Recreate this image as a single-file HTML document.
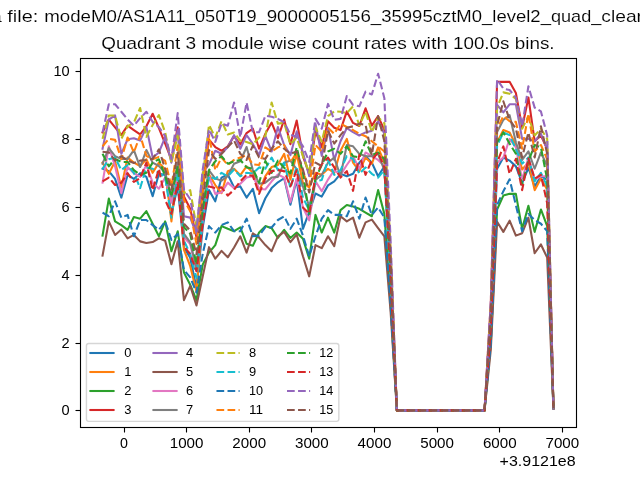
<!DOCTYPE html>
<html lang="en"><head><meta charset="utf-8"><title>Quadrant 3 module wise count rates</title>
<style>html,body{margin:0;padding:0;background:#fff}body{width:640px;height:480px;overflow:hidden}svg{display:block}text{font-family:"Liberation Sans",sans-serif}</style>
</head><body>
<svg style="will-change:transform" width="640" height="480" viewBox="0 0 640 480">
<rect x="0" y="0" width="640" height="480" fill="#fff"/>
<g fill="none" stroke-width="2.0833" stroke-linejoin="round">
<polyline stroke="#1f77b4" stroke-linecap="square" points="102.55,168.75 108.81,171.12 115.07,178.93 121.33,197.60 127.60,174.86 133.86,178.93 140.12,173.16 146.38,176.89 152.65,196.24 158.91,173.84 165.17,174.86 171.43,213.55 177.70,186.40 183.96,247.49 190.22,257.67 196.48,288.22 202.75,227.12 209.01,190.13 215.27,201.33 221.53,177.57 227.80,174.52 234.06,187.41 240.32,186.40 246.58,197.60 252.85,188.77 259.11,213.21 265.37,198.27 271.64,188.09 277.90,182.32 284.16,178.25 290.42,204.72 296.69,179.61 302.95,228.82 309.21,211.85 315.47,193.52 321.74,196.58 328.00,185.38 334.26,181.31 340.52,173.84 346.79,176.21 353.05,173.84 359.31,162.64 365.57,155.85 371.84,162.64 378.10,176.21 384.36,166.37 390.62,278.03 396.89,410.40 403.15,410.40 409.41,410.40 415.68,410.40 421.94,410.40 428.20,410.40 434.46,410.40 440.73,410.40 446.99,410.40 453.25,410.40 459.51,410.40 465.78,410.40 472.04,410.40 478.30,410.40 484.56,410.40 490.83,328.94 497.09,168.75 503.35,157.55 509.61,160.60 515.88,166.37 522.14,183.00 528.40,167.73 534.66,186.40 540.93,176.21 547.19,179.61 553.45,409.04"/>
<polyline stroke="#ff7f0e" stroke-linecap="square" points="102.55,162.64 108.81,173.84 115.07,161.28 121.33,187.41 127.60,157.55 133.86,162.64 140.12,166.03 146.38,159.24 152.65,172.82 158.91,162.64 165.17,169.43 171.43,221.35 177.70,166.03 183.96,249.86 190.22,266.15 196.48,291.61 202.75,213.55 209.01,174.52 215.27,185.04 221.53,193.18 227.80,171.12 234.06,168.75 240.32,175.20 246.58,166.37 252.85,172.82 259.11,191.15 265.37,176.21 271.64,167.05 277.90,165.01 284.16,153.81 290.42,179.61 296.69,153.81 302.95,183.00 309.21,187.41 315.47,172.82 321.74,174.86 328.00,168.75 334.26,172.82 340.52,150.76 346.79,138.88 353.05,162.64 359.31,171.12 365.57,157.55 371.84,163.66 378.10,147.37 384.36,162.64 390.62,274.64 396.89,410.40 403.15,410.40 409.41,410.40 415.68,410.40 421.94,410.40 428.20,410.40 434.46,410.40 440.73,410.40 446.99,410.40 453.25,410.40 459.51,410.40 465.78,410.40 472.04,410.40 478.30,410.40 484.56,410.40 490.83,318.76 497.09,142.27 503.35,130.06 509.61,132.43 515.88,144.99 522.14,169.43 528.40,162.64 534.66,190.13 540.93,178.59 547.19,189.79 553.45,409.04"/>
<polyline stroke="#2ca02c" stroke-linecap="square" points="102.55,235.61 108.81,198.61 115.07,221.35 121.33,225.09 127.60,229.84 133.86,216.94 140.12,218.64 146.38,211.17 152.65,223.73 158.91,236.29 165.17,221.35 171.43,251.22 177.70,231.20 183.96,272.60 190.22,284.82 196.48,300.09 202.75,264.46 209.01,252.58 215.27,245.11 221.53,226.11 227.80,228.82 234.06,231.20 240.32,227.46 246.58,243.75 252.85,245.79 259.11,232.55 265.37,226.11 271.64,228.14 277.90,237.98 284.16,229.84 290.42,237.98 296.69,232.55 302.95,238.66 309.21,258.69 315.47,214.91 321.74,232.55 328.00,217.62 334.26,232.55 340.52,210.15 346.79,205.06 353.05,206.42 359.31,208.80 365.57,212.53 371.84,216.26 378.10,190.13 384.36,213.89 390.62,301.79 396.89,410.40 403.15,410.40 409.41,410.40 415.68,410.40 421.94,410.40 428.20,410.40 434.46,410.40 440.73,410.40 446.99,410.40 453.25,410.40 459.51,410.40 465.78,410.40 472.04,410.40 478.30,410.40 484.56,410.40 490.83,342.52 497.09,209.48 503.35,195.56 509.61,193.86 515.88,193.86 522.14,228.82 528.40,205.74 534.66,231.88 540.93,209.48 547.19,226.11 553.45,409.04"/>
<polyline stroke="#d62728" stroke-linecap="square" points="102.55,132.43 108.81,119.53 115.07,127.34 121.33,135.15 127.60,125.64 133.86,130.06 140.12,134.47 146.38,126.32 152.65,113.76 158.91,128.02 165.17,143.63 171.43,159.58 177.70,127.34 183.96,196.58 190.22,208.80 196.48,237.31 202.75,183.00 209.01,139.56 215.27,147.03 221.53,150.76 227.80,146.35 234.06,136.16 240.32,144.31 246.58,133.11 252.85,128.70 259.11,148.72 265.37,133.79 271.64,122.59 277.90,138.20 284.16,119.53 290.42,144.31 296.69,120.55 302.95,156.19 309.21,173.84 315.47,131.41 321.74,147.03 328.00,121.23 334.26,127.68 340.52,130.06 346.79,111.39 353.05,122.93 359.31,125.98 365.57,108.33 371.84,125.64 378.10,116.14 384.36,130.06 390.62,254.28 396.89,410.40 403.15,410.40 409.41,410.40 415.68,410.40 421.94,410.40 428.20,410.40 434.46,410.40 440.73,410.40 446.99,410.40 453.25,410.40 459.51,410.40 465.78,410.40 472.04,410.40 478.30,410.40 484.56,410.40 490.83,301.79 497.09,81.86 503.35,81.86 509.61,81.86 515.88,93.06 522.14,127.68 528.40,97.47 534.66,141.26 540.93,135.49 547.19,149.06 553.45,409.04"/>
<polyline stroke="#9467bd" stroke-linecap="square" points="102.55,148.72 108.81,119.53 115.07,115.46 121.33,153.81 127.60,139.22 133.86,138.20 140.12,140.58 146.38,127.00 152.65,157.55 158.91,152.46 165.17,137.18 171.43,162.64 177.70,130.39 183.96,216.26 190.22,217.62 196.48,233.91 202.75,172.82 209.01,164.33 215.27,150.76 221.53,153.81 227.80,147.03 234.06,135.15 240.32,148.72 246.58,135.15 252.85,143.97 259.11,155.17 265.37,136.16 271.64,151.44 277.90,127.00 284.16,144.99 290.42,155.17 296.69,131.41 302.95,152.46 309.21,176.21 315.47,123.61 321.74,155.85 328.00,127.68 334.26,159.92 340.52,141.26 346.79,128.02 353.05,132.09 359.31,135.49 365.57,132.43 371.84,130.73 378.10,121.23 384.36,133.79 390.62,257.67 396.89,410.40 403.15,410.40 409.41,410.40 415.68,410.40 421.94,410.40 428.20,410.40 434.46,410.40 440.73,410.40 446.99,410.40 453.25,410.40 459.51,410.40 465.78,410.40 472.04,410.40 478.30,410.40 484.56,410.40 490.83,308.58 497.09,104.94 503.35,112.41 509.61,104.26 515.88,104.26 522.14,138.88 528.40,138.88 534.66,141.26 540.93,133.79 547.19,149.06 553.45,409.04"/>
<polyline stroke="#8c564b" stroke-linecap="square" points="102.55,255.63 108.81,221.35 115.07,234.93 121.33,229.50 127.60,238.32 133.86,234.93 140.12,241.38 146.38,243.08 152.65,242.06 158.91,238.32 165.17,240.70 171.43,264.12 177.70,241.38 183.96,300.09 190.22,285.84 196.48,305.53 202.75,276.34 209.01,247.15 215.27,258.69 221.53,250.88 227.80,257.33 234.06,247.49 240.32,236.29 246.58,252.58 252.85,233.23 259.11,237.65 265.37,245.11 271.64,251.22 277.90,236.29 284.16,231.88 290.42,242.06 296.69,234.59 302.95,256.31 309.21,276.34 315.47,245.11 321.74,248.17 328.00,236.29 334.26,246.13 340.52,216.26 346.79,221.35 353.05,217.62 359.31,237.65 365.57,222.37 371.84,219.66 378.10,228.14 384.36,236.29 390.62,311.97 396.89,410.40 403.15,410.40 409.41,410.40 415.68,410.40 421.94,410.40 428.20,410.40 434.46,410.40 440.73,410.40 446.99,410.40 453.25,410.40 459.51,410.40 465.78,410.40 472.04,410.40 478.30,410.40 484.56,410.40 490.83,349.31 497.09,221.69 503.35,231.88 509.61,220.68 515.88,235.61 522.14,233.23 528.40,217.62 534.66,253.26 540.93,244.43 547.19,257.67 553.45,409.04"/>
<polyline stroke="#e377c2" stroke-linecap="square" points="102.55,182.66 108.81,146.35 115.07,166.37 121.33,193.18 127.60,167.05 133.86,173.16 140.12,176.89 146.38,165.01 152.65,182.66 158.91,188.77 165.17,177.57 171.43,202.69 177.70,176.21 183.96,237.31 190.22,244.09 196.48,271.25 202.75,220.34 209.01,176.21 215.27,193.86 221.53,192.51 227.80,182.66 234.06,188.09 240.32,183.68 246.58,177.57 252.85,176.21 259.11,188.77 265.37,189.45 271.64,181.31 277.90,174.52 284.16,177.57 290.42,202.35 296.69,178.59 302.95,207.44 309.21,220.34 315.47,181.31 321.74,191.15 328.00,179.61 334.26,170.10 340.52,174.86 346.79,165.01 353.05,156.19 359.31,168.75 365.57,152.46 371.84,156.19 378.10,159.92 384.36,166.03 390.62,274.64 396.89,410.40 403.15,410.40 409.41,410.40 415.68,410.40 421.94,410.40 428.20,410.40 434.46,410.40 440.73,410.40 446.99,410.40 453.25,410.40 459.51,410.40 465.78,410.40 472.04,410.40 478.30,410.40 484.56,410.40 490.83,325.55 497.09,162.64 503.35,157.55 509.61,138.88 515.88,147.37 522.14,179.61 528.40,157.55 534.66,179.61 540.93,176.21 547.19,176.21 553.45,409.04"/>
<polyline stroke="#7f7f7f" stroke-linecap="square" points="102.55,163.66 108.81,148.04 115.07,156.19 121.33,158.90 127.60,158.90 133.86,150.08 140.12,167.05 146.38,150.08 152.65,162.64 158.91,166.03 165.17,172.82 171.43,196.58 177.70,162.64 183.96,233.91 190.22,242.40 196.48,267.85 202.75,206.76 209.01,170.44 215.27,178.59 221.53,180.63 227.80,176.21 234.06,163.66 240.32,161.28 246.58,147.03 252.85,170.10 259.11,183.68 265.37,182.66 271.64,177.57 277.90,176.89 284.16,162.64 290.42,160.60 296.69,169.43 302.95,186.40 309.21,206.76 315.47,179.95 321.74,174.86 328.00,162.64 334.26,157.55 340.52,176.21 346.79,144.99 353.05,146.35 359.31,153.81 365.57,156.19 371.84,156.19 378.10,153.81 384.36,170.10 390.62,274.64 396.89,410.40 403.15,410.40 409.41,410.40 415.68,410.40 421.94,410.40 428.20,410.40 434.46,410.40 440.73,410.40 446.99,410.40 453.25,410.40 459.51,410.40 465.78,410.40 472.04,410.40 478.30,410.40 484.56,410.40 490.83,315.37 497.09,132.09 503.35,119.87 509.61,115.12 515.88,142.27 522.14,159.92 528.40,151.44 534.66,168.75 540.93,152.46 547.19,166.03 553.45,409.04"/>
<polyline stroke="#bcbd22" stroke-linecap="butt" stroke-dasharray="7.7083 3.3333" points="102.55,138.88 108.81,115.46 115.07,115.46 121.33,138.88 127.60,126.32 133.86,122.59 140.12,107.99 146.38,136.84 152.65,124.96 158.91,115.12 165.17,132.43 171.43,162.64 177.70,135.49 183.96,193.18 190.22,190.13 196.48,227.12 202.75,176.21 209.01,124.96 215.27,137.52 221.53,121.23 227.80,134.47 234.06,132.43 240.32,140.58 246.58,141.93 252.85,144.31 259.11,137.52 265.37,136.16 271.64,102.56 277.90,123.61 284.16,122.93 290.42,144.31 296.69,137.52 302.95,156.19 309.21,172.82 315.47,127.34 321.74,141.60 328.00,116.14 334.26,111.39 340.52,111.73 346.79,113.09 353.05,106.30 359.31,125.64 365.57,111.73 371.84,132.09 378.10,117.16 384.36,123.27 390.62,250.88 396.89,410.40 403.15,410.40 409.41,410.40 415.68,410.40 421.94,410.40 428.20,410.40 434.46,410.40 440.73,410.40 446.99,410.40 453.25,410.40 459.51,410.40 465.78,410.40 472.04,410.40 478.30,410.40 484.56,410.40 490.83,308.58 497.09,107.66 503.35,92.38 509.61,93.74 515.88,98.83 522.14,128.70 528.40,116.14 534.66,135.49 540.93,128.70 547.19,138.88 553.45,409.04"/>
<polyline stroke="#17becf" stroke-linecap="butt" stroke-dasharray="7.7083 3.3333" points="102.55,168.75 108.81,159.24 115.07,157.55 121.33,170.10 127.60,165.01 133.86,172.82 140.12,188.09 146.38,167.39 152.65,168.75 158.91,172.82 165.17,177.57 171.43,217.62 177.70,172.82 183.96,240.70 190.22,254.28 196.48,278.03 202.75,216.94 209.01,176.21 215.27,178.93 221.53,172.82 227.80,176.21 234.06,169.43 240.32,176.21 246.58,172.82 252.85,173.50 259.11,167.39 265.37,168.75 271.64,157.55 277.90,170.10 284.16,162.64 290.42,188.09 296.69,166.37 302.95,197.60 309.21,210.15 315.47,181.31 321.74,179.95 328.00,159.92 334.26,174.86 340.52,170.10 346.79,156.19 353.05,158.90 359.31,173.84 365.57,167.39 371.84,173.84 378.10,177.57 384.36,170.10 390.62,278.03 396.89,410.40 403.15,410.40 409.41,410.40 415.68,410.40 421.94,410.40 428.20,410.40 434.46,410.40 440.73,410.40 446.99,410.40 453.25,410.40 459.51,410.40 465.78,410.40 472.04,410.40 478.30,410.40 484.56,410.40 490.83,322.16 497.09,145.67 503.35,132.43 509.61,135.15 515.88,149.06 522.14,163.66 528.40,157.55 534.66,181.31 540.93,172.82 547.19,186.40 553.45,409.04"/>
<polyline stroke="#1f77b4" stroke-linecap="butt" stroke-dasharray="7.7083 3.3333" points="102.55,212.53 108.81,216.26 115.07,201.33 121.33,217.62 127.60,214.91 133.86,236.29 140.12,220.00 146.38,220.00 152.65,225.09 158.91,229.84 165.17,221.35 171.43,240.02 177.70,233.91 183.96,269.89 190.22,277.36 196.48,292.63 202.75,253.60 209.01,226.11 215.27,232.55 221.53,225.09 227.80,222.37 234.06,231.20 240.32,231.20 246.58,218.64 252.85,236.29 259.11,235.61 265.37,227.12 271.64,227.46 277.90,220.00 284.16,216.26 290.42,228.82 296.69,218.64 302.95,235.61 309.21,256.31 315.47,236.29 321.74,218.64 328.00,210.15 334.26,214.91 340.52,214.91 346.79,216.26 353.05,201.33 359.31,218.64 365.57,197.60 371.84,214.91 378.10,207.44 384.36,217.62 390.62,305.19 396.89,410.40 403.15,410.40 409.41,410.40 415.68,410.40 421.94,410.40 428.20,410.40 434.46,410.40 440.73,410.40 446.99,410.40 453.25,410.40 459.51,410.40 465.78,410.40 472.04,410.40 478.30,410.40 484.56,410.40 490.83,342.52 497.09,205.06 503.35,191.15 509.61,179.27 515.88,205.06 522.14,231.20 528.40,213.89 534.66,220.00 540.93,223.73 547.19,231.20 553.45,409.04"/>
<polyline stroke="#ff7f0e" stroke-linecap="butt" stroke-dasharray="7.7083 3.3333" points="102.55,146.35 108.81,138.88 115.07,139.90 121.33,159.24 127.60,137.52 133.86,152.46 140.12,135.15 146.38,155.85 152.65,159.24 158.91,156.87 165.17,160.94 171.43,186.40 177.70,145.67 183.96,199.97 190.22,211.17 196.48,244.09 202.75,193.18 209.01,135.15 215.27,170.10 221.53,157.55 227.80,165.01 234.06,159.92 240.32,157.55 246.58,155.17 252.85,164.33 259.11,165.01 265.37,147.37 271.64,151.44 277.90,147.37 284.16,144.99 290.42,162.64 296.69,152.46 302.95,172.82 309.21,186.40 315.47,144.99 321.74,151.44 328.00,127.68 334.26,133.79 340.52,123.61 346.79,127.00 353.05,130.06 359.31,133.79 365.57,136.16 371.84,141.26 378.10,146.35 384.36,151.44 390.62,264.46 396.89,410.40 403.15,410.40 409.41,410.40 415.68,410.40 421.94,410.40 428.20,410.40 434.46,410.40 440.73,410.40 446.99,410.40 453.25,410.40 459.51,410.40 465.78,410.40 472.04,410.40 478.30,410.40 484.56,410.40 490.83,315.37 497.09,128.70 503.35,116.14 509.61,121.23 515.88,121.91 522.14,148.72 528.40,113.76 534.66,151.44 540.93,144.99 547.19,159.24 553.45,409.04"/>
<polyline stroke="#2ca02c" stroke-linecap="butt" stroke-dasharray="7.7083 3.3333" points="102.55,153.81 108.81,166.37 115.07,158.90 121.33,161.96 127.60,161.96 133.86,170.10 140.12,174.86 146.38,172.82 152.65,162.64 158.91,159.24 165.17,176.21 171.43,196.58 177.70,166.03 183.96,227.12 190.22,233.91 196.48,264.46 202.75,210.15 209.01,170.10 215.27,161.28 221.53,156.19 227.80,163.66 234.06,161.28 240.32,159.92 246.58,167.39 252.85,168.75 259.11,182.66 265.37,160.94 271.64,172.82 277.90,160.60 284.16,167.73 290.42,173.50 296.69,147.37 302.95,172.82 309.21,214.91 315.47,178.59 321.74,165.01 328.00,151.44 334.26,148.72 340.52,153.81 346.79,146.35 353.05,156.19 359.31,157.55 365.57,141.26 371.84,155.17 378.10,152.46 384.36,159.24 390.62,271.25 396.89,410.40 403.15,410.40 409.41,410.40 415.68,410.40 421.94,410.40 428.20,410.40 434.46,410.40 440.73,410.40 446.99,410.40 453.25,410.40 459.51,410.40 465.78,410.40 472.04,410.40 478.30,410.40 484.56,410.40 490.83,322.16 497.09,142.27 503.35,132.43 509.61,143.63 515.88,153.81 522.14,184.70 528.40,161.28 534.66,144.99 540.93,147.37 547.19,179.61 553.45,409.04"/>
<polyline stroke="#d62728" stroke-linecap="butt" stroke-dasharray="7.7083 3.3333" points="102.55,181.31 108.81,177.57 115.07,185.04 121.33,182.66 127.60,173.16 133.86,181.98 140.12,178.25 146.38,162.64 152.65,190.13 158.91,168.75 165.17,199.97 171.43,213.89 177.70,183.00 183.96,246.13 190.22,254.28 196.48,271.25 202.75,223.73 209.01,186.40 215.27,188.09 221.53,187.41 227.80,195.56 234.06,189.79 240.32,181.31 246.58,174.86 252.85,175.87 259.11,193.86 265.37,178.59 271.64,171.12 277.90,170.10 284.16,171.12 290.42,186.40 296.69,170.10 302.95,207.44 309.21,213.55 315.47,176.21 321.74,164.33 328.00,157.55 334.26,167.39 340.52,177.57 346.79,171.12 353.05,190.81 359.31,154.83 365.57,174.86 371.84,159.92 378.10,152.46 384.36,167.39 390.62,278.03 396.89,410.40 403.15,410.40 409.41,410.40 415.68,410.40 421.94,410.40 428.20,410.40 434.46,410.40 440.73,410.40 446.99,410.40 453.25,410.40 459.51,410.40 465.78,410.40 472.04,410.40 478.30,410.40 484.56,410.40 490.83,328.94 497.09,162.64 503.35,146.35 509.61,173.84 515.88,158.90 522.14,190.13 528.40,158.57 534.66,178.59 540.93,174.86 547.19,203.37 553.45,409.04"/>
<polyline stroke="#9467bd" stroke-linecap="butt" stroke-dasharray="7.7083 3.3333" points="102.55,132.43 108.81,104.26 115.07,104.26 121.33,111.73 127.60,119.53 133.86,125.64 140.12,118.18 146.38,111.73 152.65,121.91 158.91,127.00 165.17,136.16 171.43,159.24 177.70,113.09 183.96,189.79 190.22,199.29 196.48,230.52 202.75,169.43 209.01,129.38 215.27,141.93 221.53,123.61 227.80,125.64 234.06,102.56 240.32,137.18 246.58,102.56 252.85,132.43 259.11,132.09 265.37,115.80 271.64,116.82 277.90,118.86 284.16,122.25 290.42,134.81 296.69,136.84 302.95,146.35 309.21,161.96 315.47,118.86 321.74,128.70 328.00,103.92 334.26,119.87 340.52,118.86 346.79,96.12 353.05,104.94 359.31,106.30 365.57,91.70 371.84,94.42 378.10,73.72 384.36,98.15 390.62,240.70 396.89,410.40 403.15,410.40 409.41,410.40 415.68,410.40 421.94,410.40 428.20,410.40 434.46,410.40 440.73,410.40 446.99,410.40 453.25,410.40 459.51,410.40 465.78,410.40 472.04,410.40 478.30,410.40 484.56,410.40 490.83,301.79 497.09,79.49 503.35,88.65 509.61,90.01 515.88,97.47 522.14,126.32 528.40,86.27 534.66,107.66 540.93,111.39 547.19,135.49 553.45,409.04"/>
<polyline stroke="#8c564b" stroke-linecap="butt" stroke-dasharray="7.7083 3.3333" points="102.55,151.78 108.81,152.46 115.07,160.60 121.33,156.19 127.60,160.60 133.86,162.98 140.12,160.60 146.38,159.92 152.65,158.90 158.91,149.40 165.17,168.75 171.43,189.79 177.70,152.46 183.96,223.73 190.22,230.52 196.48,254.28 202.75,199.97 209.01,150.08 215.27,158.90 221.53,153.81 227.80,147.03 234.06,140.58 240.32,153.81 246.58,159.92 252.85,145.67 259.11,157.55 265.37,158.90 271.64,148.72 277.90,141.26 284.16,148.72 290.42,153.81 296.69,151.44 302.95,169.43 309.21,192.51 315.47,162.64 321.74,166.03 328.00,130.73 334.26,143.63 340.52,135.15 346.79,127.68 353.05,126.32 359.31,123.61 365.57,124.96 371.84,155.17 378.10,116.14 384.36,141.26 390.62,261.06 396.89,410.40 403.15,410.40 409.41,410.40 415.68,410.40 421.94,410.40 428.20,410.40 434.46,410.40 440.73,410.40 446.99,410.40 453.25,410.40 459.51,410.40 465.78,410.40 472.04,410.40 478.30,410.40 484.56,410.40 490.83,311.97 497.09,125.30 503.35,101.21 509.61,119.87 515.88,128.70 522.14,157.55 528.40,132.43 534.66,157.55 540.93,126.32 547.19,153.81 553.45,409.04"/>
</g>
<g stroke="#000" stroke-width="1.111" fill="none" stroke-linecap="square">
<rect x="80.5" y="58.5" width="496" height="369"/>
</g>
<g stroke="#000" stroke-width="1.111" fill="none" stroke-linecap="butt">
<line x1="124.5" y1="428" x2="124.5" y2="432.5"/>
<line x1="186.5" y1="428" x2="186.5" y2="432.5"/>
<line x1="249.5" y1="428" x2="249.5" y2="432.5"/>
<line x1="311.5" y1="428" x2="311.5" y2="432.5"/>
<line x1="374.5" y1="428" x2="374.5" y2="432.5"/>
<line x1="437.5" y1="428" x2="437.5" y2="432.5"/>
<line x1="499.5" y1="428" x2="499.5" y2="432.5"/>
<line x1="562.5" y1="428" x2="562.5" y2="432.5"/>
<line x1="75.5" y1="410.5" x2="80" y2="410.5"/>
<line x1="75.5" y1="343.5" x2="80" y2="343.5"/>
<line x1="75.5" y1="275.5" x2="80" y2="275.5"/>
<line x1="75.5" y1="207.5" x2="80" y2="207.5"/>
<line x1="75.5" y1="139.5" x2="80" y2="139.5"/>
<line x1="75.5" y1="71.5" x2="80" y2="71.5"/>
</g>
<rect x="86.45" y="343.55" width="252.4" height="77.8" rx="2.31" ry="2.31" fill="#fff" fill-opacity="0.8" stroke="#ccc" stroke-opacity="0.8" stroke-width="1.389"/>
<g fill="none" stroke-width="2.0833">
<line x1="90.41" y1="353.00" x2="113.55" y2="353.00" stroke="#1f77b4" stroke-linecap="square"/>
<line x1="90.41" y1="372.00" x2="113.55" y2="372.00" stroke="#ff7f0e" stroke-linecap="square"/>
<line x1="90.41" y1="391.00" x2="113.55" y2="391.00" stroke="#2ca02c" stroke-linecap="square"/>
<line x1="90.41" y1="410.00" x2="113.55" y2="410.00" stroke="#d62728" stroke-linecap="square"/>
<line x1="153.45" y1="353.00" x2="176.59" y2="353.00" stroke="#9467bd" stroke-linecap="square"/>
<line x1="153.45" y1="372.00" x2="176.59" y2="372.00" stroke="#8c564b" stroke-linecap="square"/>
<line x1="153.45" y1="391.00" x2="176.59" y2="391.00" stroke="#e377c2" stroke-linecap="square"/>
<line x1="153.45" y1="410.00" x2="176.59" y2="410.00" stroke="#7f7f7f" stroke-linecap="square"/>
<line x1="216.48" y1="353.00" x2="239.62" y2="353.00" stroke="#bcbd22" stroke-dasharray="7.7083 3.3333"/>
<line x1="216.48" y1="372.00" x2="239.62" y2="372.00" stroke="#17becf" stroke-dasharray="7.7083 3.3333"/>
<line x1="216.48" y1="391.00" x2="239.62" y2="391.00" stroke="#1f77b4" stroke-dasharray="7.7083 3.3333"/>
<line x1="216.48" y1="410.00" x2="239.62" y2="410.00" stroke="#ff7f0e" stroke-dasharray="7.7083 3.3333"/>
<line x1="287.01" y1="353.00" x2="310.15" y2="353.00" stroke="#2ca02c" stroke-dasharray="7.7083 3.3333"/>
<line x1="287.01" y1="372.00" x2="310.15" y2="372.00" stroke="#d62728" stroke-dasharray="7.7083 3.3333"/>
<line x1="287.01" y1="391.00" x2="310.15" y2="391.00" stroke="#9467bd" stroke-dasharray="7.7083 3.3333"/>
<line x1="287.01" y1="410.00" x2="310.15" y2="410.00" stroke="#8c564b" stroke-dasharray="7.7083 3.3333"/>
</g>
<g style="filter:grayscale(1)" fill="#000">
<text y="21.80" font-size="17.42" stroke="#fff" stroke-width="0.12"><tspan x="-38.05" textLength="39.87" lengthAdjust="spacingAndGlyphs">Data</tspan> <tspan x="7.33" textLength="31.06" lengthAdjust="spacingAndGlyphs">file:</tspan> <tspan x="44.20" textLength="78.02" lengthAdjust="spacingAndGlyphs">modeM0/</tspan><tspan x="121.32" textLength="73.67" lengthAdjust="spacingAndGlyphs">AS1A11_</tspan><tspan x="194.99" textLength="71.68" lengthAdjust="spacingAndGlyphs">050T19_</tspan><tspan x="266.67" textLength="114.60" lengthAdjust="spacingAndGlyphs">9000005156_</tspan><tspan x="381.27" textLength="111.00" lengthAdjust="spacingAndGlyphs">35995cztM0_</tspan><tspan x="492.27" textLength="58.69" lengthAdjust="spacingAndGlyphs">level2_</tspan><tspan x="550.96" textLength="50.37" lengthAdjust="spacingAndGlyphs">quad_</tspan><tspan x="601.32" textLength="76.93" lengthAdjust="spacingAndGlyphs">clean.evt</tspan></text>
<text y="48.85" font-size="17.42" stroke="#fff" stroke-width="0.12"><tspan x="101.37" textLength="78.79" lengthAdjust="spacingAndGlyphs">Quadrant</tspan> <tspan x="185.48" textLength="10.62" lengthAdjust="spacingAndGlyphs">3</tspan> <tspan x="201.41" textLength="62.58" lengthAdjust="spacingAndGlyphs">module</tspan> <tspan x="269.30" textLength="37.27" lengthAdjust="spacingAndGlyphs">wise</tspan> <tspan x="311.88" textLength="47.11" lengthAdjust="spacingAndGlyphs">count</tspan> <tspan x="364.31" textLength="42.62" lengthAdjust="spacingAndGlyphs">rates</tspan> <tspan x="412.24" textLength="35.43" lengthAdjust="spacingAndGlyphs">with</tspan> <tspan x="452.98" textLength="56.51" lengthAdjust="spacingAndGlyphs">100.0s</tspan> <tspan x="514.79" textLength="39.83" lengthAdjust="spacingAndGlyphs">bins.</tspan></text>
<text y="448.00" font-size="14.51"><tspan x="120.03" textLength="7.94" lengthAdjust="spacingAndGlyphs">0</tspan></text>
<text y="448.00" font-size="14.51"><tspan x="169.77" textLength="33.72" lengthAdjust="spacingAndGlyphs">1000</tspan></text>
<text y="448.00" font-size="14.51"><tspan x="232.39" textLength="33.72" lengthAdjust="spacingAndGlyphs">2000</tspan></text>
<text y="448.00" font-size="14.51"><tspan x="295.02" textLength="33.72" lengthAdjust="spacingAndGlyphs">3000</tspan></text>
<text y="448.00" font-size="14.51"><tspan x="357.64" textLength="33.72" lengthAdjust="spacingAndGlyphs">4000</tspan></text>
<text y="448.00" font-size="14.51"><tspan x="420.27" textLength="33.72" lengthAdjust="spacingAndGlyphs">5000</tspan></text>
<text y="448.00" font-size="14.51"><tspan x="482.90" textLength="33.72" lengthAdjust="spacingAndGlyphs">6000</tspan></text>
<text y="448.00" font-size="14.51"><tspan x="545.52" textLength="33.72" lengthAdjust="spacingAndGlyphs">7000</tspan></text>
<text y="414.95" font-size="14.51"><tspan x="61.58" textLength="8.12" lengthAdjust="spacingAndGlyphs">0</tspan></text>
<text y="347.95" font-size="14.51"><tspan x="61.58" textLength="8.12" lengthAdjust="spacingAndGlyphs">2</tspan></text>
<text y="279.95" font-size="14.51"><tspan x="61.58" textLength="8.12" lengthAdjust="spacingAndGlyphs">4</tspan></text>
<text y="211.95" font-size="14.51"><tspan x="61.58" textLength="8.12" lengthAdjust="spacingAndGlyphs">6</tspan></text>
<text y="143.95" font-size="14.51"><tspan x="61.58" textLength="8.12" lengthAdjust="spacingAndGlyphs">8</tspan></text>
<text y="75.95" font-size="14.51"><tspan x="53.46" textLength="16.24" lengthAdjust="spacingAndGlyphs">10</tspan></text>
<text y="466.00" font-size="14.51"><tspan x="499.61" textLength="75.99" lengthAdjust="spacingAndGlyphs">+3.9121e8</tspan></text>
<text y="357.40" font-size="12.09"><tspan x="124.20" textLength="7.17" lengthAdjust="spacingAndGlyphs">0</tspan></text>
<text y="376.40" font-size="12.09"><tspan x="124.20" textLength="7.17" lengthAdjust="spacingAndGlyphs">1</tspan></text>
<text y="395.40" font-size="12.09"><tspan x="124.20" textLength="7.17" lengthAdjust="spacingAndGlyphs">2</tspan></text>
<text y="414.40" font-size="12.09"><tspan x="124.20" textLength="7.17" lengthAdjust="spacingAndGlyphs">3</tspan></text>
<text y="357.40" font-size="12.09"><tspan x="186.10" textLength="7.17" lengthAdjust="spacingAndGlyphs">4</tspan></text>
<text y="376.40" font-size="12.09"><tspan x="186.10" textLength="7.17" lengthAdjust="spacingAndGlyphs">5</tspan></text>
<text y="395.40" font-size="12.09"><tspan x="186.10" textLength="7.17" lengthAdjust="spacingAndGlyphs">6</tspan></text>
<text y="414.40" font-size="12.09"><tspan x="186.10" textLength="7.17" lengthAdjust="spacingAndGlyphs">7</tspan></text>
<text y="357.40" font-size="12.09"><tspan x="248.90" textLength="7.17" lengthAdjust="spacingAndGlyphs">8</tspan></text>
<text y="376.40" font-size="12.09"><tspan x="248.90" textLength="7.17" lengthAdjust="spacingAndGlyphs">9</tspan></text>
<text y="395.40" font-size="12.09"><tspan x="248.90" textLength="14.05" lengthAdjust="spacingAndGlyphs">10</tspan></text>
<text y="414.40" font-size="12.09"><tspan x="248.90" textLength="14.05" lengthAdjust="spacingAndGlyphs">11</tspan></text>
<text y="357.40" font-size="12.09"><tspan x="319.30" textLength="14.05" lengthAdjust="spacingAndGlyphs">12</tspan></text>
<text y="376.40" font-size="12.09"><tspan x="319.30" textLength="14.05" lengthAdjust="spacingAndGlyphs">13</tspan></text>
<text y="395.40" font-size="12.09"><tspan x="319.30" textLength="14.05" lengthAdjust="spacingAndGlyphs">14</tspan></text>
<text y="414.40" font-size="12.09"><tspan x="319.30" textLength="14.05" lengthAdjust="spacingAndGlyphs">15</tspan></text>
</g>
</svg>
</body></html>
